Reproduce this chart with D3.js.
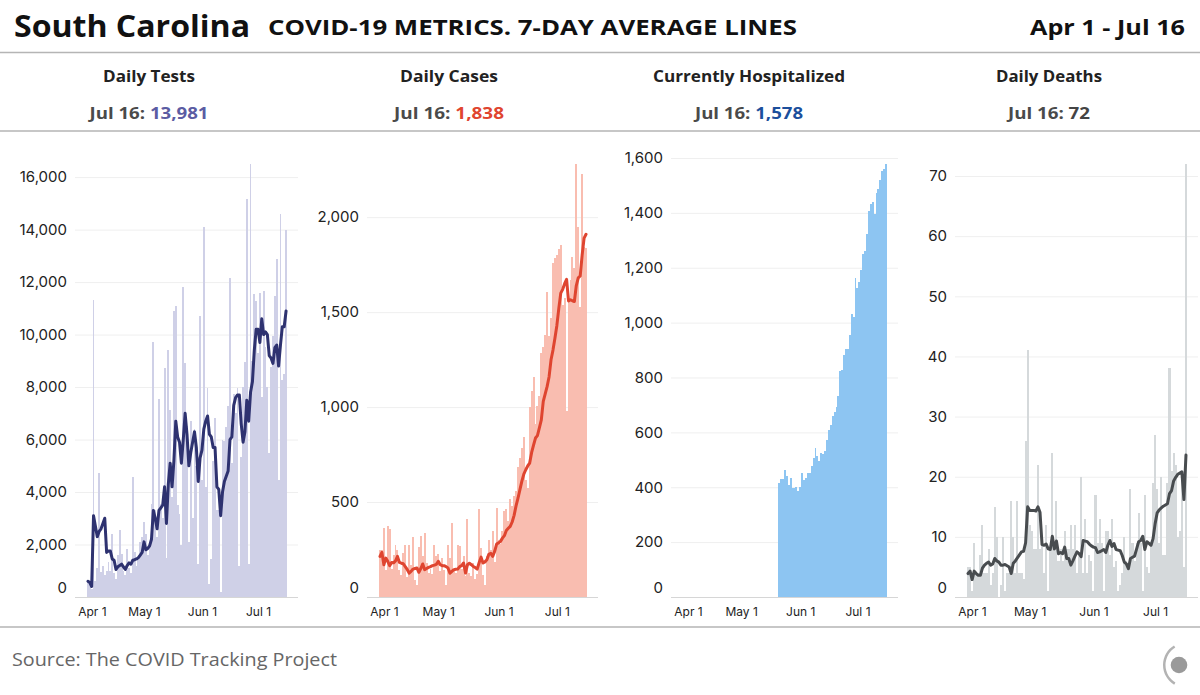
<!DOCTYPE html>
<html><head><meta charset="utf-8">
<script src="https://cdn.jsdelivr.net/npm/d3@7"></script>
<style>body{margin:0;background:#fff}svg{display:block}</style>
</head><body>
<svg id="c" width="1200" height="695"></svg>
<script>
const startDate = "2020-04-01", endDate = "2020-07-16";
const hospStart = "2020-05-21";
const xTickDates = ["2020-04-01","2020-05-01","2020-06-01","2020-07-01"];

const testsDaily = [650,600,300,11300,600,1100,4730,950,1200,830,
 1000,1330,1000,2400,900,700,1600,2540,1650,1000,
 830,1840,1100,900,4580,1700,1200,1500,2100,2290,
 2860,2400,1600,2100,3560,9730,3300,2300,7560,3560,
 3000,8710,1500,9410,7120,3800,10900,11090,3500,3180,
 2000,11820,8900,6500,2100,6700,3000,6400,5000,1270,
 10720,4450,14110,4200,7950,500,1460,5200,6840,3300,
 3300,200,6000,5950,6460,7270,12140,5090,7750,7000,
 7970,1200,5340,8000,8960,15180,1270,16500,9000,11540,
 11290,9300,11570,7630,11670,9540,8000,5470,8770,9940,
 11470,12890,4450,14600,8260,8500,13981];
const testsAvg = [600,550,400,3100,2700,2300,2500,2600,2800,3000,
 1700,1750,1750,1450,1400,1050,1150,1200,1250,1150,
 1050,1200,1300,1250,1400,1420,1450,1500,1600,1700,
 2100,1800,1850,1950,2200,3300,3000,2600,3300,3400,
 3500,4200,2800,4300,5100,4200,5200,6700,6100,5900,
 5100,6000,7000,6200,5000,5500,5900,6300,5700,4400,
 5300,5600,6400,6700,6900,6200,6100,5700,5700,4200,
 4100,3100,4000,4400,4600,4800,6000,6100,7300,7600,
 7700,7700,6600,5900,6300,7500,6700,7800,8200,9400,
 10200,10200,9700,10600,10000,10100,10000,9200,9100,8900,
 9500,9600,8800,9600,10300,10300,10900];

const casesDaily = [250,250,363,144,372,360,150,223,275,246,
 144,117,231,275,105,275,170,314,91,65,
 263,319,214,337,179,126,150,123,272,214,
 225,135,205,144,65,275,205,389,144,126,
 275,267,150,214,109,410,126,109,179,95,
 120,465,258,117,65,214,302,250,346,182,
 468,302,281,346,451,465,398,517,477,530,
 560,682,731,784,845,614,574,1003,1087,1161,
 910,1008,1056,1287,1315,1380,1608,1375,1468,1757,
 1784,1800,1833,1854,1538,1573,977,1565,1670,1789,
 1731,2280,1950,1526,2226,1845,1838];
const casesAvg = [214,235,170,205,188,165,182,180,190,214,
 182,178,175,160,145,126,135,147,150,153,
 130,150,174,144,150,156,160,165,168,172,
 188,170,165,165,160,153,125,135,144,146,
 147,160,165,179,126,170,178,170,161,155,
 147,180,210,179,185,196,225,230,214,240,
 279,285,293,310,323,350,362,372,395,430,
 480,520,565,610,647,670,690,705,760,800,
 837,850,890,933,1030,1070,1109,1160,1249,1300,
 1363,1430,1520,1600,1620,1650,1673,1559,1565,1560,
 1556,1640,1680,1690,1800,1890,1910];

const hospDaily = [415,429,429,463,440,408,433,399,399,400,
 388,402,451,427,433,451,451,478,505,542,
 514,497,524,521,533,572,608,627,659,675,
 693,732,824,829,881,905,905,954,1030,1021,
 1162,1126,1148,1190,1251,1260,1324,1405,1431,1438,
 1394,1471,1487,1520,1554,1560,1578];

const deathsDaily = [5,5,1,9,4,4,7,12,4,4,8,2,4,15,10,0,2,10,1,4,
 4,16,10,4,16,4,4,3,26,41,
 12,11,8,8,22,8,9,4,12,1,
 8,24,8,16,6,8,6,11,8,
 8,12,8,12,4,7,20,4,13,4,
 7,6,1,17,9,13,9,1,11,11,
 7,13,5,6,1,2,4,10,6,5,
 18,9,6,9,14,9,1,17,5,4,
 9,19,27,18,9,20,7,7,19,
 38,21,24,22,10,11,20,5,72];
const deathsAvg = [3.9,4.3,2.9,4.3,3.9,3.6,3.6,4.8,5.3,5.6,
 5.8,5.3,5.5,6.4,6.0,5.8,5.3,5.3,5.4,5.2,
 5.0,3.9,5.6,6.0,6.5,7.0,7.5,7.6,9.0,15.0,
 14.4,14.4,14.4,14.3,15.0,14.1,8.7,8.6,8.8,8.0,
 7.9,10.1,8.0,9.3,7.2,7.4,7.2,8.3,6.4,6.4,
 5.3,6.0,6.8,7.5,7.2,6.7,9.4,9.3,9.2,8.8,
 8.5,8.3,8.2,7.4,7.5,7.7,7.9,7.4,8.6,9.4,
 8.4,8.9,7.9,7.8,7.7,6.9,5.8,5.5,4.7,6.4,
 6.6,6.8,8.0,9.2,9.4,10.1,7.9,9.2,8.9,8.6,
 9.7,12.2,14.0,14.5,14.8,15.1,15.3,15.5,17.2,17.7,
 19.3,19.9,20.4,20.6,20.8,16.2,23.6];

const panelTitles = ["Daily Tests","Daily Cases","Currently Hospitalized","Daily Deaths"];
const latestLabel = "Jul 16: ";
const latestValues = ["13,981","1,838","1,578","72"];
const yTicks = [
  [0,2000,4000,6000,8000,10000,12000,14000,16000],
  [0,500,1000,1500,2000],
  [0,200,400,600,800,1000,1200,1400,1600],
  [0,10,20,30,40,50,60,70]
];
const titleText = "South Carolina";
const subtitleText = "COVID-19 METRICS. 7-DAY AVERAGE LINES";
const rangeText = "Apr 1 - Jul 16";
const sourceText = "Source: The COVID Tracking Project";

// ---------- layout ----------
const svg = d3.select("#c");
const parse = d3.utcParse("%Y-%m-%d");
const allDays = d3.utcDay.range(parse(startDate), d3.utcDay.offset(parse(endDate), 1));
const hospDays = d3.utcDay.range(parse(hospStart), d3.utcDay.offset(parse(endDate), 1));
const HEAD = "'Open Sans', Roboto, sans-serif";

function fit(sel, target){
  const w = sel.node().getComputedTextLength();
  if (Math.abs(w - target) / target > 0.015) sel.attr("textLength", target).attr("lengthAdjust","spacingAndGlyphs");
  return sel;
}

const panels = [
  {x0:0,   left:75, daily:testsDaily,  avg:testsAvg,  days:allDays,  bar:"#cfd0e7", line:"#2e3270", val:"#5b5ca3", tw:92,  vw:119},
  {x0:300, left:67, daily:casesDaily,  avg:casesAvg,  days:allDays,  bar:"#f9bdb0", line:"#df4530", val:"#e0452f", tw:98,  vw:110},
  {x0:600, left:71, daily:hospDaily,   avg:null,      days:hospDays, bar:"#8dc5f2", line:null,      val:"#1c4f9c", tw:192, vw:108},
  {x0:900, left:55, daily:deathsDaily, avg:deathsAvg, days:allDays,  bar:"#d5d9db", line:"#484c4f", val:"#444",    tw:106, vw:82}
];
const baseY = 597, topY = 164;

// header
fit(svg.append("text").attr("x",14).attr("y",37).text(titleText)
  .style("font-family",HEAD).style("font-weight","700").style("font-size","30px").attr("fill","#111"), 236);
fit(svg.append("text").attr("x",268).attr("y",35).text(subtitleText)
  .style("font-family",HEAD).style("font-weight","700").style("font-size","22px").attr("fill","#111"), 529);
fit(svg.append("text").attr("x",1030).attr("y",35).text(rangeText)
  .style("font-family",HEAD).style("font-weight","700").style("font-size","22px").attr("fill","#111"), 155);

[52.5,131,627].forEach(yy=>{
  svg.append("line").attr("x1",0).attr("x2",1200).attr("y1",yy).attr("y2",yy)
    .attr("stroke","#b5b5b5").attr("stroke-width",1.5);
});

panels.forEach((p,k)=>{
  const g = svg.append("g");
  const cx = p.x0 + 149;
  const tt = g.append("text").attr("x",cx - p.tw/2).attr("y",82).text(panelTitles[k])
    .style("font-family",HEAD).style("font-weight","700").style("font-size","16px").attr("fill","#222");
  fit(tt, p.tw);
  const t = g.append("text").attr("x",cx - p.vw/2).attr("y",119)
    .style("font-family",HEAD).style("font-weight","700").style("font-size","16px").attr("fill","#4a4a4a");
  t.append("tspan").text(latestLabel);
  t.append("tspan").attr("fill",p.val).text(latestValues[k]);
  fit(t, p.vw);

  const plotL = p.x0 + p.left, plotR = p.x0 + 298;
  const x = d3.scaleUtc()
    .domain([allDays[0], d3.utcDay.offset(allDays[allDays.length-1],1)])
    .range([plotL + 12, p.x0 + 287]);
  const y = d3.scaleLinear().domain([0, d3.max(p.daily)]).range([baseY, topY]);

  // y axis with gridlines
  const ya = g.append("g").attr("transform",`translate(${plotL},0)`)
    .call(d3.axisLeft(y).tickValues(yTicks[k]).tickSize(-(plotR-plotL)).tickPadding(8).tickFormat(d3.format(",")));
  ya.select(".domain").remove();
  ya.selectAll(".tick line").attr("stroke","#efefef").attr("stroke-width",1);
  ya.selectAll(".tick text").style("font-family","Inter").style("font-size","15px").attr("fill","#222")
    .attr("dy", d => d === 0 ? "-0.28em" : "0.32em");

  // bars (pixel-snapped so neighbouring bars touch without seams)
  const bars = p.days.map((d,i)=>({d, v:p.daily[i]}));
  g.append("g").attr("shape-rendering","crispEdges").selectAll("rect").data(bars).join("rect")
    .attr("x", b => Math.round(x(b.d)))
    .attr("width", b => Math.round(x(d3.utcDay.offset(b.d,1))) - Math.round(x(b.d)))
    .attr("y", b => Math.round(y(b.v)))
    .attr("height", b => baseY - Math.round(y(b.v)))
    .attr("fill", p.bar);

  // baseline
  g.append("line").attr("x1",plotL).attr("x2",plotR).attr("y1",baseY+0.5).attr("y2",baseY+0.5)
    .attr("stroke","#d6d6d6").attr("stroke-width",1);

  // 7-day avg line
  if (p.avg) {
    const pts = p.days.map((d,i)=>({d, v:p.avg[i]}));
    g.append("path").datum(pts)
      .attr("d", d3.line().x(q => x(d3.utcHour.offset(q.d,12))).y(q => y(q.v)))
      .attr("fill","none").attr("stroke",p.line).attr("stroke-width",3)
      .attr("stroke-linejoin","round").attr("stroke-linecap","round");
  }

  // x axis
  const xa = g.append("g").attr("transform",`translate(0,${baseY})`)
    .call(d3.axisBottom(x).tickValues(xTickDates.map(s=>d3.utcHour.offset(parse(s),12)))
      .tickSize(0).tickPadding(10).tickFormat(d3.utcFormat("%b %-d")));
  xa.select(".domain").remove();
  xa.selectAll(".tick text").style("font-family","Inter").style("font-size","12px").attr("fill","#222")
    .attr("dx",(d,i)=> i===0 ? 4 : 0);
});

// footer
fit(svg.append("text").attr("x",12).attr("y",666).text(sourceText)
  .style("font-family","'Open Sans', Roboto, sans-serif").style("font-size","18px").attr("fill","#666"), 325);
svg.append("circle").attr("cx",1179).attr("cy",665).attr("r",8.3).attr("fill","#9a9a9a");
svg.append("path").attr("transform","translate(1186,665)")
  .attr("d", d3.arc().innerRadius(20.5).outerRadius(23).startAngle(-2.6).endAngle(-0.55)())
  .attr("fill","#b3b3b3");
</script>
</body></html>
